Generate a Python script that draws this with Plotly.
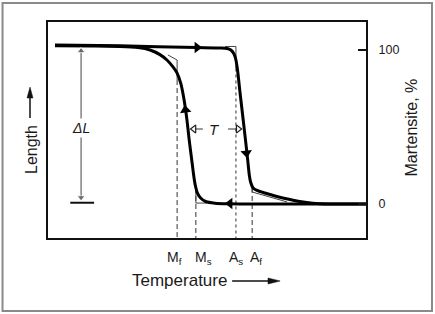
import plotly.graph_objects as go

# ---------------- data (temperature in arbitrary units, martensite in %) ----------------
COOL_T = [2.2, 13.2, 22.6, 28.3, 32.1, 35.2, 37.4, 39.3, 40.6, 41.8, 42.8, 43.7, 44.4, 45.2,
          45.8, 46.3, 47.0, 48.0, 49.6, 52.5, 56.3, 100.0]
COOL_M = [102.8, 102.6, 102.3, 101.6, 100.0, 97.0, 93.5, 89.0, 85.0, 78.0, 67.5, 54.5, 41.6, 28.6,
          18.8, 12.3, 7.1, 3.9, 1.6, 0.5, 0.1, 0.0]

HEAT_T = [2.2, 22.6, 46.9, 54.1, 56.3, 57.5, 58.5, 59.1, 59.6, 60.4, 61.2, 62.1, 62.8, 63.3,
          63.7, 64.5, 65.7, 68.2, 71.4, 76.1, 79.2, 83.3, 88.7, 100.0]
HEAT_M = [103.2, 102.7, 101.6, 101.3, 101.0, 100.0, 97.4, 93.5, 87.0, 72.1, 57.8, 41.6, 28.6, 18.8,
          14.3, 10.4, 8.8, 7.1, 5.2, 2.9, 1.6, 0.5, 0.0, 0.0]

TRANSITION_NAMES = ["M<sub>f</sub>", "M<sub>s</sub>", "A<sub>s</sub>", "A<sub>f</sub>"]
TRANSITION_T = [40.6, 46.5, 59.1, 64.2]
TRANSITION_TOP = [80.5, 10.4, 88.0, 10.4]

# tangent construction lines
MF_CONSTR_T = [37.7, 40.6, 40.6]
MF_CONSTR_M = [96.8, 93.5, 80.5]
AS_CONSTR_T = [55.7, 59.1, 59.1]
AS_CONSTR_M = [102.3, 102.3, 88.0]
MS_CONSTR_T = [46.5, 46.5, 50.0]
MS_CONSTR_M = [10.4, 0.6, 0.6]
AF_CONSTR_T = [64.2, 64.2, 75.2]
AF_CONSTR_M = [10.4, 7.8, 1.3]

# direction arrows on the curves
ARROW_T = [46.9, 43.2, 62.4, 57.2]
ARROW_M = [101.6, 61.0, 33.1, 0.3]
ARROW_SYMBOL = ["triangle-right", "triangle-up", "triangle-down", "triangle-left"]
ARROW_ANGLE = [0, -7, -6, 0]

Y_TICKS = [0, 100]
Y_TICK_TEXT = ["0", "100"]

DELTA_L_T = 10.4
DELTA_L_M = [4.5, 99.0]          # shaft ends
DELTA_L_HEAD_M = [4.2, 99.4]     # arrow heads (down, up)
DELTA_L_BAR_T = [7.0, 14.5]
DELTA_L_BAR_M = [0.8, 0.8]

HYST_M = 48.7
HYST_LEFT_T = [46.2, 48.7]     # shaft of left arrow
HYST_RIGHT_T = [56.6, 59.5]    # shaft of right arrow
HYST_HEAD_T = [45.9, 59.8]
HYST_TEXT_T = 52.5

X_RANGE = [0, 100]
Y_RANGE = [-22.1, 118.2]

FONT = "Liberation Sans, Arial, sans-serif"
INK = "#1a1a1a"

fig = go.Figure()

# guide lines (dashed)
for name, t, top in zip(TRANSITION_NAMES, TRANSITION_T, TRANSITION_TOP):
    dash = "3px,3px" if name.startswith("A<sub>s") else "5px,3px"
    fig.add_trace(go.Scatter(x=[t, t], y=[top, Y_RANGE[0]], mode="lines",
                             line=dict(color="#333", width=1, dash=dash),
                             hoverinfo="skip", showlegend=False))

for tt, mm in [(MF_CONSTR_T, MF_CONSTR_M), (AS_CONSTR_T, AS_CONSTR_M),
               (MS_CONSTR_T, MS_CONSTR_M), (AF_CONSTR_T, AF_CONSTR_M)]:
    fig.add_trace(go.Scatter(x=tt, y=mm, mode="lines",
                             line=dict(color="#444", width=1),
                             hoverinfo="skip", showlegend=False))

# curves
fig.add_trace(go.Scatter(x=COOL_T, y=COOL_M, mode="lines",
                         line=dict(color="#000", width=3, shape="spline", smoothing=0.6),
                         showlegend=False))
fig.add_trace(go.Scatter(x=HEAT_T, y=HEAT_M, mode="lines",
                         line=dict(color="#000", width=3, shape="spline", smoothing=0.6),
                         showlegend=False))

fig.add_trace(go.Scatter(x=ARROW_T, y=ARROW_M, mode="markers",
                         marker=dict(symbol=ARROW_SYMBOL, angle=ARROW_ANGLE, size=10, color="#000",
                                     line=dict(width=0)),
                         showlegend=False))

# delta L double arrow and bar
fig.add_trace(go.Scatter(x=[DELTA_L_T, DELTA_L_T], y=DELTA_L_M, mode="lines",
                         line=dict(color="#444", width=1), showlegend=False))
fig.add_trace(go.Scatter(x=[DELTA_L_T, DELTA_L_T], y=DELTA_L_HEAD_M, mode="markers",
                         marker=dict(symbol=["triangle-down", "triangle-up"], size=[7, 7], color="#333"),
                         showlegend=False))
fig.add_trace(go.Scatter(x=DELTA_L_BAR_T, y=DELTA_L_BAR_M, mode="lines",
                         line=dict(color="#111", width=2), showlegend=False))

# hysteresis T arrows
for shaft in (HYST_LEFT_T, HYST_RIGHT_T):
    fig.add_trace(go.Scatter(x=shaft, y=[HYST_M, HYST_M], mode="lines",
                             line=dict(color="#333", width=1), showlegend=False))
fig.add_trace(go.Scatter(x=HYST_HEAD_T, y=[HYST_M, HYST_M], mode="markers",
                         marker=dict(symbol=["triangle-left-open", "triangle-right-open"], size=7,
                                     color="#222", line=dict(width=1.2, color="#222")),
                         showlegend=False))

ann = []
ann.append(dict(x=DELTA_L_T, y=49.4, xref="x", yref="y", text="<i>ΔL</i>", showarrow=False,
                xanchor="center", yanchor="middle",
                font=dict(family=FONT, size=14, color=INK), bgcolor="white"))
ann.append(dict(x=HYST_TEXT_T, y=HYST_M, xref="x", yref="y", text="<i>T</i>", showarrow=False,
                xanchor="center", yanchor="middle",
                font=dict(family=FONT, size=15, color=INK)))

# transition labels below the axis
LABEL_X = [39.8, 48.9, 59.2, 65.5]
for name, lx in zip(TRANSITION_NAMES, LABEL_X):
    ann.append(dict(x=lx, y=-0.093, xref="x", yref="paper", text=name, showarrow=False,
                    xanchor="center", yanchor="middle",
                    font=dict(family=FONT, size=14, color=INK)))

# axis titles
ann.append(dict(x=0.4135, y=-0.197, xref="paper", yref="paper", text="Temperature", showarrow=False,
                xanchor="center", yanchor="middle",
                font=dict(family=FONT, size=17, color=INK)))
ann.append(dict(x=-0.0535, y=0.412, xref="paper", yref="paper", text="Length", textangle=-90,
                xanchor="center", yanchor="middle",
                showarrow=False, font=dict(family=FONT, size=16, color=INK)))
ann.append(dict(x=1.1415, y=0.5116, xref="paper", yref="paper", text="Martensite, %", textangle=-90,
                xanchor="center", yanchor="middle",
                showarrow=False, font=dict(family=FONT, size=16, color=INK)))

shapes = [
    # outer frame
    dict(type="rect", xref="paper", yref="paper", x0=-0.143, x1=1.2075, y0=-0.338, y1=1.088,
         line=dict(color="#8a8a8a", width=2), layer="below"),
    # temperature arrow
    dict(type="line", xref="paper", yref="paper", x0=0.579, x1=0.700, y0=-0.199, y1=-0.199,
         line=dict(color="#111", width=1.5)),
    dict(type="path", xref="paper", yref="paper",
         path="M 0.730,-0.199 L 0.6918,-0.1851 L 0.6918,-0.2129 Z",
         fillcolor="#111", line=dict(color="#111", width=0.5)),
    # length arrow
    dict(type="line", xref="paper", yref="paper", x0=-0.0566, x1=-0.0566, y0=0.5556, y1=0.665,
         line=dict(color="#111", width=1.5)),
    dict(type="path", xref="paper", yref="paper",
         path="M -0.0566,0.699 L -0.0660,0.648 L -0.0472,0.648 Z",
         fillcolor="#111", line=dict(color="#111", width=0.5)),
]

fig.update_layout(
    width=435, height=314,
    margin=dict(l=48, r=69, t=22, b=76, pad=0),
    paper_bgcolor="white", plot_bgcolor="white",
    annotations=ann,
    shapes=shapes,
    xaxis=dict(range=X_RANGE, showgrid=False, zeroline=False, showticklabels=False, ticks="",
               showline=True, mirror=True, linecolor="#111", linewidth=2),
    yaxis=dict(range=Y_RANGE, side="right", showgrid=False, zeroline=False,
               tickvals=Y_TICKS, ticktext=Y_TICK_TEXT, ticks="inside", ticklen=8, tickwidth=1.5,
               tickcolor="#111", ticklabelstandoff=8,
               tickfont=dict(family=FONT, size=12.5, color=INK),
               showline=True, mirror=True, linecolor="#111", linewidth=2),
)

fig.write_html("out.html")
